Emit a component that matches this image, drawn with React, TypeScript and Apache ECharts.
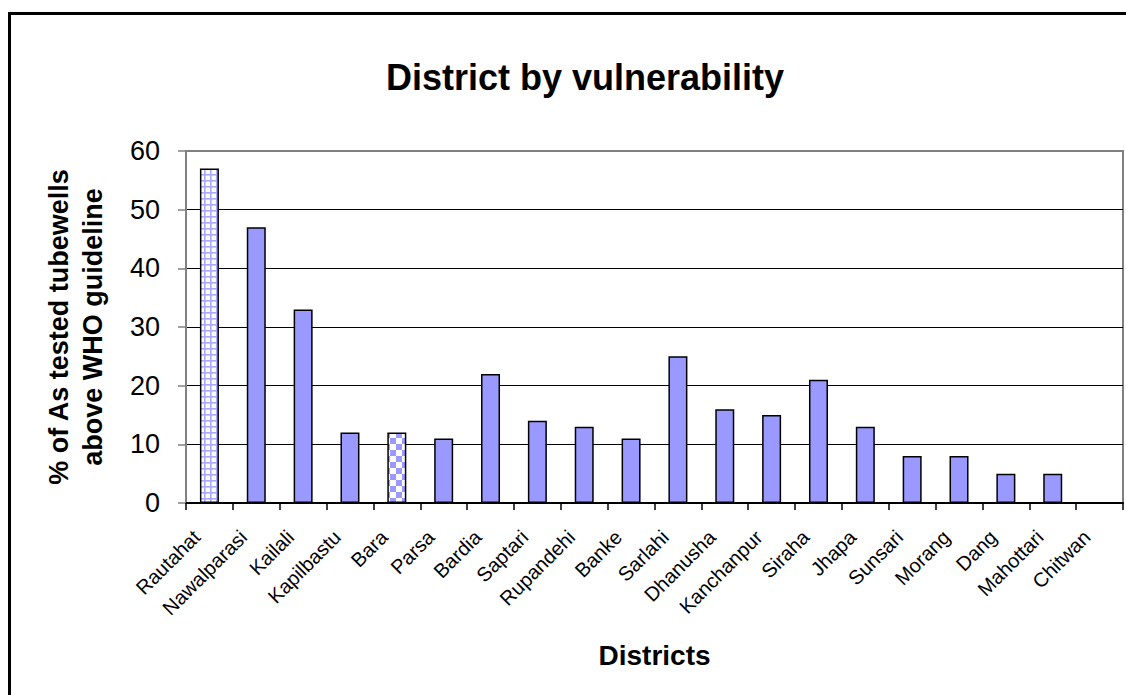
import React, { useEffect, useRef } from "react";
import * as echarts from "echarts";

const categories = [
  "Rautahat", "Nawalparasi", "Kailali", "Kapilbastu", "Bara", "Parsa", "Bardia",
  "Saptari", "Rupandehi", "Banke", "Sarlahi", "Dhanusha", "Kanchanpur", "Siraha",
  "Jhapa", "Sunsari", "Morang", "Dang", "Mahottari", "Chitwan",
];
const values = [57, 47, 33, 12, 12, 11, 22, 14, 13, 11, 25, 16, 15, 21, 13, 8, 8, 5, 5, 0];
const yTicks = [0, 10, 20, 30, 40, 50, 60];
const titleText = "District by vulnerability";
const yName = "% of As tested tubewells\nabove WHO guideline";
const xName = "Districts";

const FONT = "'Liberation Sans', Arial, sans-serif";
const BLUE = "#9999FF";

function gridPattern(): string {
  const c = document.createElement("canvas");
  c.width = 6; c.height = 6;
  const g = c.getContext("2d")!;
  g.fillStyle = "#ffffff"; g.fillRect(0, 0, 6, 6);
  g.fillStyle = "#a9a9ff";
  g.fillRect(0, 0, 6, 1.6);
  g.fillRect(0, 0, 1.6, 6);
  return c.toDataURL();
}
function checkPattern(): string {
  const c = document.createElement("canvas");
  c.width = 12; c.height = 12;
  const g = c.getContext("2d")!;
  g.fillStyle = "#ffffff"; g.fillRect(0, 0, 12, 12);
  g.fillStyle = BLUE;
  g.fillRect(0, 0, 6, 6);
  g.fillRect(6, 6, 6, 6);
  return c.toDataURL();
}

export default function App() {
  const ref = useRef<HTMLDivElement>(null);
  useEffect(() => {
    document.body.style.margin = "0";
    const chart = echarts.init(ref.current!, undefined, { renderer: "svg" });
    const gp = gridPattern();
    const cp = checkPattern();
    const data = values.map((v, i) => {
      if (categories[i] === "Rautahat")
        return { value: v, itemStyle: { color: { image: gp, repeat: "repeat" } as any } };
      if (categories[i] === "Bara")
        return { value: v, itemStyle: { color: { image: cp, repeat: "repeat" } as any } };
      return v;
    });
    chart.setOption({
      animation: false,
      backgroundColor: "#ffffff",
      title: {
        text: titleText,
        left: 580,
        textAlign: "center",
        top: 54,
        textStyle: { fontFamily: FONT, fontSize: 36, fontWeight: "bold", color: "#000" },
      },
      graphic: [
        {
          type: "rect",
          shape: { x: 9.5, y: 13.5, width: 1300, height: 900 },
          style: { fill: "none", stroke: "#000", lineWidth: 3 },
          silent: true,
        },
      ],
      grid: {
        left: 186,
        right: 3,
        top: 151,
        bottom: 192,
        show: true,
        borderColor: "#808080",
        borderWidth: 2,
        containLabel: false,
      },
      xAxis: {
        type: "category",
        data: categories,
        name: xName,
        nameLocation: "middle",
        nameGap: 138,
        nameTextStyle: { fontFamily: FONT, fontSize: 28, fontWeight: "bold", color: "#000" },
        axisLine: { lineStyle: { color: "#000", width: 2 } },
        axisTick: { show: true, length: 7, lineStyle: { color: "#000", width: 1.5 } },
        axisLabel: {
          interval: 0,
          rotate: 45,
          margin: 18,
          padding: [0, 18, 0, 0],
          fontFamily: FONT,
          fontSize: 20,
          color: "#000",
        },
      },
      yAxis: {
        type: "value",
        min: yTicks[0],
        max: yTicks[yTicks.length - 1],
        interval: 10,
        name: yName,
        nameLocation: "middle",
        nameRotate: 90,
        nameGap: 76,
        nameTextStyle: {
          fontFamily: FONT, fontSize: 27, fontWeight: "bold", color: "#000", lineHeight: 34,
        },
        axisLine: { show: true, lineStyle: { color: "#808080", width: 2 } },
        axisTick: { show: true, length: 8, lineStyle: { color: "#808080", width: 1.5 } },
        axisLabel: { margin: 26, fontFamily: FONT, fontSize: 27, color: "#000" },
        splitLine: {
          show: true,
          lineStyle: {
            color: ["#000", "#000", "#000", "#000", "#000", "#000", "#808080"],
            width: 1.2,
          },
        },
      },
      series: [
        {
          type: "bar",
          data,
          barWidth: 19,
          itemStyle: { color: BLUE, borderColor: "#000", borderWidth: 1.5 },
        },
      ],
    });
    return () => chart.dispose();
  }, []);
  return <div ref={ref} style={{ width: 1126, height: 695 }} />;
}
